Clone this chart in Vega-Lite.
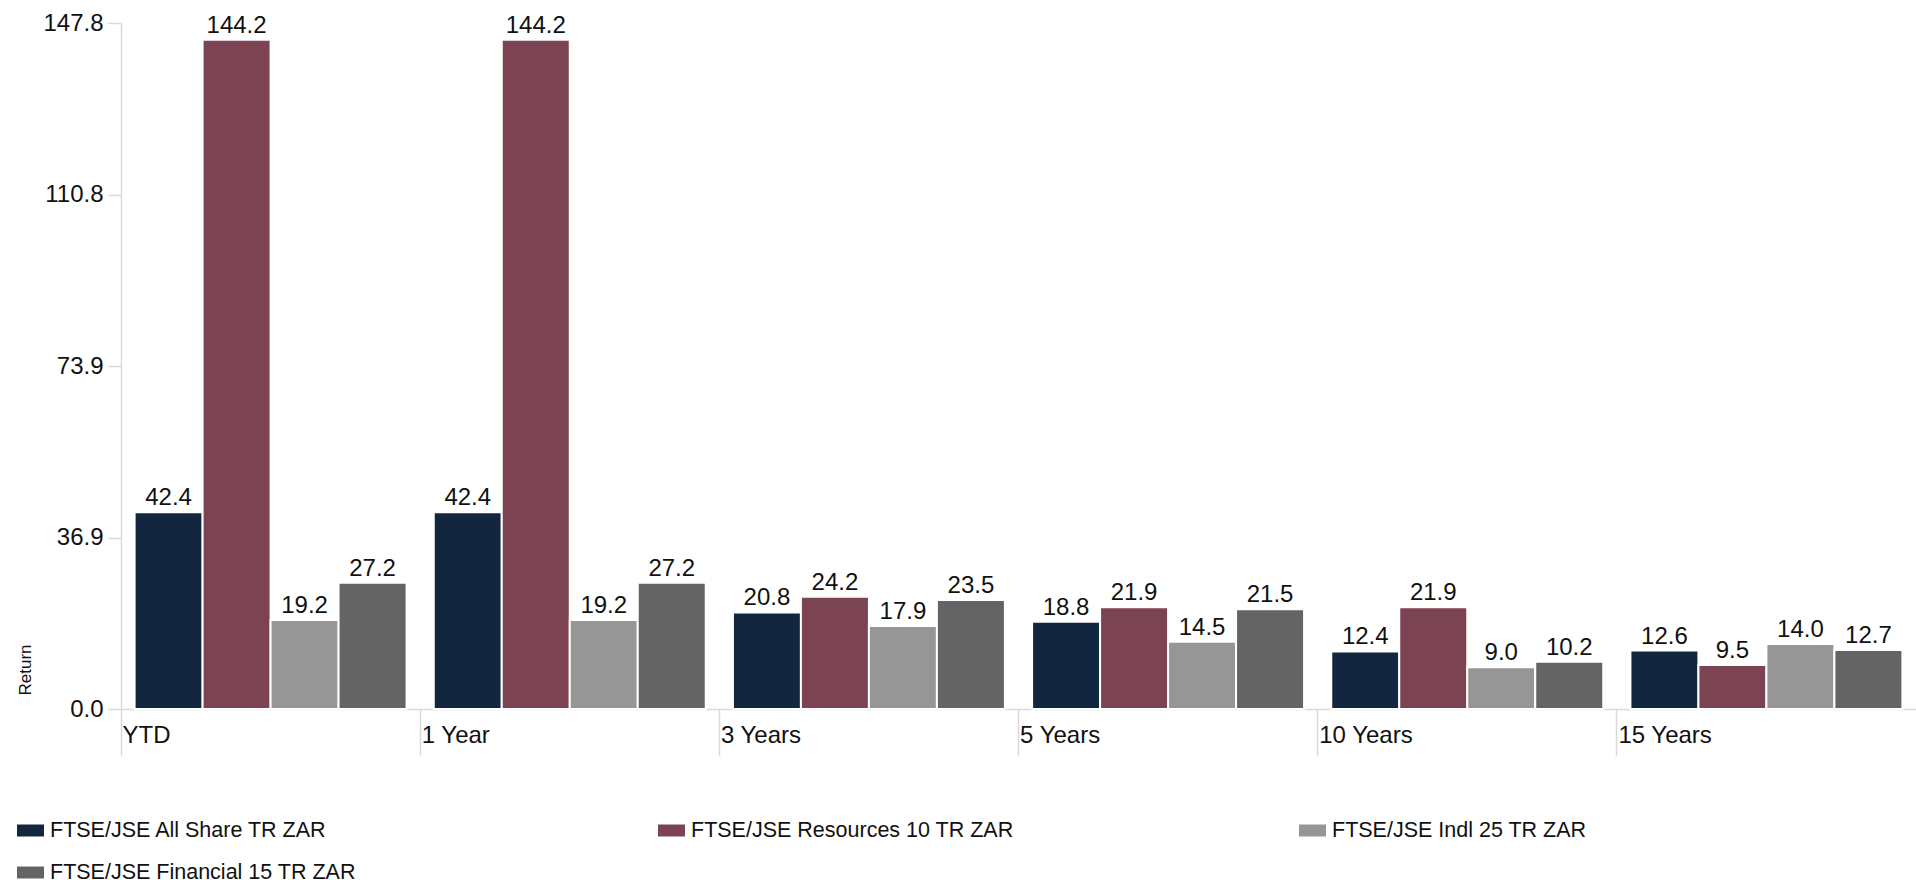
{
  "$schema": "https://vega.github.io/schema/vega-lite/v6.json",
  "autosize": {"type": "none"},
  "padding": {"left": 121, "top": 23, "right": 0, "bottom": 171},
  "width": 1795,
  "height": 686,
  "background": "white",
  "config": {
    "view": {"stroke": null},
    "font": "Liberation Sans",
    "text": {"font": "Liberation Sans"}
  },
  "data": {
    "values": [
      {"period": "YTD", "index": "FTSE/JSE All Share TR ZAR", "ret": 42.4},
      {"period": "YTD", "index": "FTSE/JSE Resources 10 TR ZAR", "ret": 144.2},
      {"period": "YTD", "index": "FTSE/JSE Indl 25 TR ZAR", "ret": 19.2},
      {"period": "YTD", "index": "FTSE/JSE Financial 15 TR ZAR", "ret": 27.2},
      {"period": "1 Year", "index": "FTSE/JSE All Share TR ZAR", "ret": 42.4},
      {"period": "1 Year", "index": "FTSE/JSE Resources 10 TR ZAR", "ret": 144.2},
      {"period": "1 Year", "index": "FTSE/JSE Indl 25 TR ZAR", "ret": 19.2},
      {"period": "1 Year", "index": "FTSE/JSE Financial 15 TR ZAR", "ret": 27.2},
      {"period": "3 Years", "index": "FTSE/JSE All Share TR ZAR", "ret": 20.8},
      {"period": "3 Years", "index": "FTSE/JSE Resources 10 TR ZAR", "ret": 24.2},
      {"period": "3 Years", "index": "FTSE/JSE Indl 25 TR ZAR", "ret": 17.9},
      {"period": "3 Years", "index": "FTSE/JSE Financial 15 TR ZAR", "ret": 23.5},
      {"period": "5 Years", "index": "FTSE/JSE All Share TR ZAR", "ret": 18.8},
      {"period": "5 Years", "index": "FTSE/JSE Resources 10 TR ZAR", "ret": 21.9},
      {"period": "5 Years", "index": "FTSE/JSE Indl 25 TR ZAR", "ret": 14.5},
      {"period": "5 Years", "index": "FTSE/JSE Financial 15 TR ZAR", "ret": 21.5},
      {"period": "10 Years", "index": "FTSE/JSE All Share TR ZAR", "ret": 12.4},
      {"period": "10 Years", "index": "FTSE/JSE Resources 10 TR ZAR", "ret": 21.9},
      {"period": "10 Years", "index": "FTSE/JSE Indl 25 TR ZAR", "ret": 9.0},
      {"period": "10 Years", "index": "FTSE/JSE Financial 15 TR ZAR", "ret": 10.2},
      {"period": "15 Years", "index": "FTSE/JSE All Share TR ZAR", "ret": 12.6},
      {"period": "15 Years", "index": "FTSE/JSE Resources 10 TR ZAR", "ret": 9.5},
      {"period": "15 Years", "index": "FTSE/JSE Indl 25 TR ZAR", "ret": 14.0},
      {"period": "15 Years", "index": "FTSE/JSE Financial 15 TR ZAR", "ret": 12.7}
    ]
  },
  "encoding": {
    "x": {
      "field": "period",
      "type": "nominal",
      "sort": ["YTD", "1 Year", "3 Years", "5 Years", "10 Years", "15 Years"],
      "scale": {"paddingInner": 0, "paddingOuter": 0},
      "axis": {
        "title": null,
        "bandPosition": 0,
        "labelAngle": 0,
        "labelAlign": "left",
        "labelBaseline": "top",
        "labelOffset": -148,
        "labelPadding": -32,
        "labelFontSize": 24,
        "labelColor": "#111111",
        "labelFont": "Liberation Sans",
        "tickSize": 46,
        "tickColor": "#d9d9d9",
        "tickWidth": 1.5,
        "domainColor": "#d9d9d9",
        "domainWidth": 1.5
      }
    },
    "y": {
      "field": "ret",
      "type": "quantitative",
      "scale": {"domain": [0, 147.8], "nice": false},
      "axis": {
        "title": "Return",
        "titleFontSize": 17,
        "titleFontWeight": "normal",
        "titleColor": "#111111",
        "titleFont": "Liberation Sans",
        "titleAnchor": "start",
        "titleAngle": -90,
        "titleAlign": "left",
        "titleBaseline": "middle",
        "titleX": -96,
        "titleY": 672,
        "values": [0, 36.9, 73.9, 110.8, 147.8],
        "format": ".1f",
        "grid": false,
        "labelFontSize": 24,
        "labelColor": "#111111",
        "labelFont": "Liberation Sans",
        "labelPadding": 5,
        "tickSize": 13,
        "tickColor": "#d9d9d9",
        "tickWidth": 1.5,
        "domainColor": "#d9d9d9",
        "domainWidth": 1.5
      }
    },
    "xOffset": {
      "field": "index",
      "type": "nominal",
      "sort": ["FTSE/JSE All Share TR ZAR", "FTSE/JSE Resources 10 TR ZAR", "FTSE/JSE Indl 25 TR ZAR", "FTSE/JSE Financial 15 TR ZAR"],
      "scale": {"paddingInner": 0, "paddingOuter": 0.2}
    }
  },
  "layer": [
    {
      "mark": {"type": "bar", "stroke": "white", "strokeWidth": 2},
      "encoding": {
        "color": {
          "field": "index",
          "type": "nominal",
          "sort": ["FTSE/JSE All Share TR ZAR", "FTSE/JSE Resources 10 TR ZAR", "FTSE/JSE Indl 25 TR ZAR", "FTSE/JSE Financial 15 TR ZAR"],
          "scale": {
            "domain": ["FTSE/JSE All Share TR ZAR", "FTSE/JSE Resources 10 TR ZAR", "FTSE/JSE Indl 25 TR ZAR", "FTSE/JSE Financial 15 TR ZAR"],
            "range": ["#13263f", "#7c4352", "#969696", "#646464"]
          },
          "legend": {
            "title": null,
            "orient": "none",
            "legendX": -104,
            "legendY": 794,
            "direction": "horizontal",
            "columns": 3,
            "gridAlign": "all",
            "columnPadding": 285,
            "rowPadding": 18,
            "padding": 0,
            "symbolType": "M-1,-0.444L1,-0.444L1,0.444L-1,0.444Z",
            "symbolSize": 729,
            "symbolStrokeWidth": 0,
            "symbolOpacity": 1,
            "labelFontSize": 21.5,
            "labelColor": "#111111",
            "labelFont": "Liberation Sans",
            "labelOffset": 6,
            "labelLimit": 600
          }
        }
      }
    },
    {
      "mark": {"type": "text", "baseline": "alphabetic", "dy": -7, "fontSize": 24, "color": "#111111", "font": "Liberation Sans"},
      "encoding": {
        "text": {"field": "ret", "type": "quantitative", "format": ".1f"}
      }
    }
  ]
}
